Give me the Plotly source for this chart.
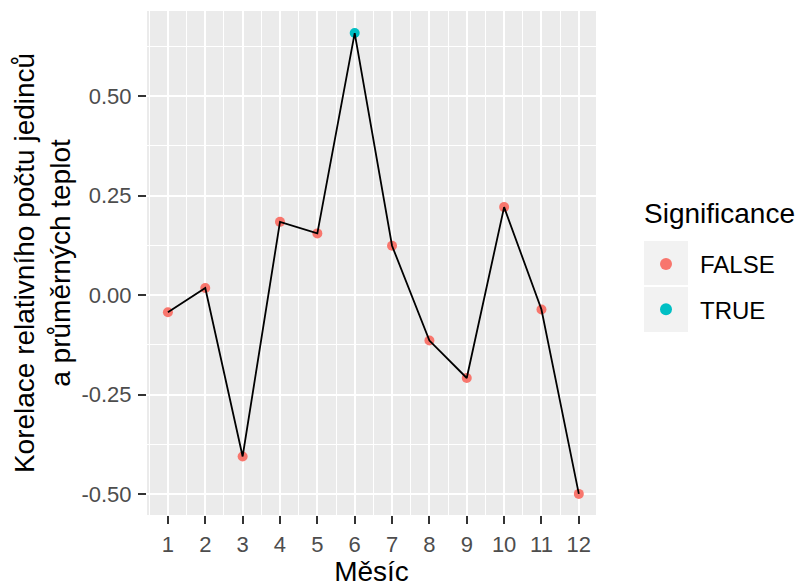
import plotly.graph_objects as go

months = list(range(1, 12 + 1))
correlation = [-0.043, 0.018, -0.405, 0.184, 0.155, 0.658, 0.124, -0.114, -0.208, 0.221, -0.036, -0.499]
significance = [False, False, False, False, False, True, False, False, False, False, False, False]
x_tick_labels = [str(m) for m in months]
y_tick_vals = [-0.5, -0.25, 0.0, 0.25, 0.5]
y_tick_labels = ["-0.50", "-0.25", "0.00", "0.25", "0.50"]

colors = {False: "#F8766D", True: "#00BFC4"}

fig = go.Figure()
for flag in [False, True]:
    xs = [m for m, s in zip(months, significance) if s == flag]
    ys = [c for c, s in zip(correlation, significance) if s == flag]
    fig.add_trace(go.Scatter(
        x=xs, y=ys, mode="markers", name=str(flag).upper(),
        legendgroup=str(flag),
        marker=dict(color=colors[flag], size=10, line=dict(width=0)),
    ))
fig.add_trace(go.Scatter(
    x=months, y=correlation, mode="lines", showlegend=False,
    line=dict(color="black", width=1.8),
))

# legend key backgrounds (paper coords; plot area 449 x 504 px, left 147, bottom 515)
PW, PH, PL, PB = 449.0, 504.0, 147.0, 515.0
for top, bot in [(241, 285), (287, 332)]:
    fig.add_shape(type="rect", xref="paper", yref="paper",
                  x0=(644 - PL) / PW, x1=(688 - PL) / PW,
                  y0=(PB - bot) / PH, y1=(PB - top) / PH,
                  fillcolor="#F2F2F2", line=dict(width=0), layer="below")

fig.add_annotation(text="Significance", xref="paper", yref="paper",
                   x=(642 - PL) / PW, y=(PB - 213) / PH, xanchor="left", yanchor="middle",
                   showarrow=False, font=dict(size=28, color="black"))

font = "Liberation Sans, Arial, sans-serif"
fig.update_layout(
    width=795, height=579,
    margin=dict(l=139, r=207, t=3, b=72),
    paper_bgcolor="white", plot_bgcolor="#EBEBEB",
    font=dict(family=font, color="black"),
    showlegend=True,
    legend=dict(
        font=dict(size=24, color="black"),
        x=(632 - PL) / PW, y=(PB - 242) / PH, xanchor="left", yanchor="top",
        bgcolor="rgba(0,0,0,0)", tracegroupgap=11,
        itemsizing="constant", itemwidth=58,
    ),
    xaxis=dict(
        range=[0.44, 12.46], tickvals=months, ticktext=x_tick_labels,
        ticks="outside", ticklen=8, tickwidth=1.5, tickcolor="#333333",
        tickfont=dict(size=22, color="#4D4D4D"), ticklabelstandoff=2,
        showgrid=True, gridcolor="white", gridwidth=2,
        minor=dict(tick0=0.5, dtick=1, showgrid=True, gridcolor="white", gridwidth=1, ticks=""),
        zeroline=False, showline=False, automargin=False,
        title=dict(text="Měsíc", font=dict(size=28, color="black"), standoff=13),
    ),
    yaxis=dict(
        range=[-0.552, 0.7134], tickvals=y_tick_vals, ticktext=y_tick_labels,
        ticks="outside", ticklen=8, tickwidth=1.5, tickcolor="#333333",
        tickfont=dict(size=22, color="#4D4D4D"), ticklabelstandoff=2,
        showgrid=True, gridcolor="white", gridwidth=2,
        minor=dict(tick0=0.125, dtick=0.25, showgrid=True, gridcolor="white", gridwidth=1, ticks=""),
        zeroline=False, showline=False, automargin=False,
        title=dict(text="Korelace relativního počtu jedinců<br>a průměrných teplot",
                   font=dict(size=28, color="black"), standoff=2),
    ),
)

fig.write_html("out.html")
